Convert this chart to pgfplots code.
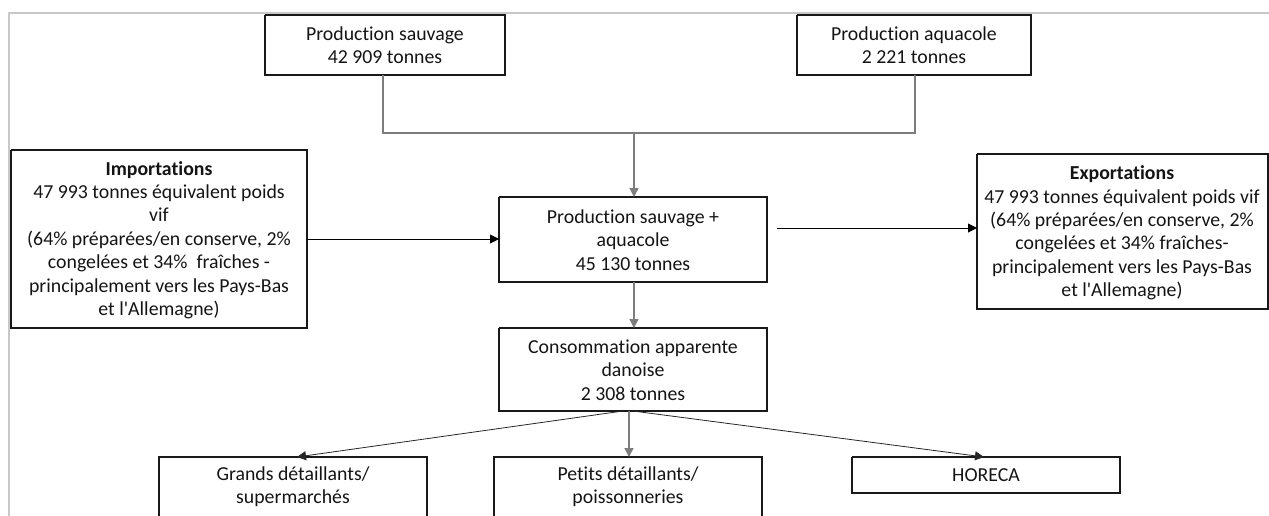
\documentclass[border=0pt]{standalone}
\usepackage{fontspec}
\setmainfont{Carlito}[Ligatures={TeXOff,NoCommon}]
\usepackage{pgfplots}
\pgfplotsset{compat=1.18}
\usetikzlibrary{arrows.meta}
\definecolor{frame}{RGB}{200,200,200}
\definecolor{conn}{RGB}{125,125,125}
\definecolor{boxc}{RGB}{25,25,25}
\tikzset{lbl/.style={font=\fontsize{19.8}{23.4}\selectfont, align=center, text=black!92, inner sep=0pt}}
\begin{document}
\begin{tikzpicture}
\begin{axis}[
  x=1pt, y=1pt, y dir=reverse,
  xmin=0, xmax=1269, ymin=0, ymax=515,
  hide axis, clip=true, no markers,
]
% extent
\addplot[draw=none] coordinates {(0,0) (1269,515)};
% frame
\addplot[frame, line width=1.6pt] coordinates {(9,530) (9,13) (1280,13)};
% boxes
\addplot[boxc, line width=1.7pt, line join=miter] coordinates {(265,15) (505,15) (505,75) (265,75) (265,15)};
\addplot[boxc, line width=1.7pt, line join=miter] coordinates {(797,15) (1031,15) (1031,75) (797,75) (797,15)};
\addplot[boxc, line width=1.7pt, line join=miter] coordinates {(11,150) (307,150) (307,328) (11,328) (11,150)};
\addplot[boxc, line width=1.7pt, line join=miter] coordinates {(499,197) (767,197) (767,282) (499,282) (499,197)};
\addplot[boxc, line width=1.7pt, line join=miter] coordinates {(977,154) (1268,154) (1268,309) (977,309) (977,154)};
\addplot[boxc, line width=1.7pt, line join=miter] coordinates {(499,328) (767,328) (767,411) (499,411) (499,328)};
\addplot[boxc, line width=1.7pt, line join=miter] coordinates {(159,540) (159,457) (427,457) (427,540)};
\addplot[boxc, line width=1.7pt, line join=miter] coordinates {(494,540) (494,457) (762,457) (762,540)};
\addplot[boxc, line width=1.7pt, line join=miter] coordinates {(852,457) (1120,457) (1120,493) (852,493) (852,457)};
% connectors
\addplot[conn, line width=1.3pt] coordinates {(383,75) (383,133) (915,133) (915,75)};
\addplot[conn, line width=1.3pt, -{Triangle[length=9pt,width=9pt]}] coordinates {(634,133) (634,197)};
\addplot[conn, line width=1.3pt, -{Triangle[length=9pt,width=9pt]}] coordinates {(634,282) (634,328)};
\addplot[black, line width=0.9pt, -{Triangle[length=9pt,width=9pt]}] coordinates {(307,239) (499,239)};
\addplot[black, line width=0.9pt, -{Triangle[length=9pt,width=9pt]}] coordinates {(777,228) (977,228)};
\addplot[black!85, line width=0.8pt, -{Triangle[length=9pt,width=9pt]}] coordinates {(623,411) (297,457)};
\addplot[conn, line width=1.3pt, -{Triangle[length=9pt,width=9pt]}] coordinates {(629,411) (629,457)};
\addplot[black!85, line width=0.8pt, -{Triangle[length=9pt,width=9pt]}] coordinates {(633,411) (984,457)};
% texts
\node[lbl] at (axis cs:385,45) {Production sauvage\\42 909 tonnes};
\node[lbl] at (axis cs:914,45) {Production aquacole\\2 221 tonnes};
\node[lbl] at (axis cs:159,240) {\textbf{Importations}\\47 993 tonnes équivalent poids\\vif\\(64\% préparées/en conserve, 2\%\\congelées et 34\%~ fraîches -\\principalement vers les Pays-Bas\\et l'Allemagne)};
\node[lbl] at (axis cs:633,240) {Production sauvage +\\aquacole\\45 130 tonnes};
\node[lbl] at (axis cs:1122,233) {\textbf{Exportations}\\47 993 tonnes équivalent poids vif\\(64\% préparées/en conserve, 2\%\\congelées et 34\% fraîches-\\principalement vers les Pays-Bas\\et l'Allemagne)};
\node[lbl] at (axis cs:633,370) {Consommation apparente\\danoise\\2 308 tonnes};
\node[lbl] at (axis cs:293,487) {Grands détaillants/\\supermarchés};
\node[lbl] at (axis cs:628,487) {Petits détaillants/\\poissonneries};
\node[lbl] at (axis cs:986,475) {HORECA};
\end{axis}
\end{tikzpicture}
\end{document}
